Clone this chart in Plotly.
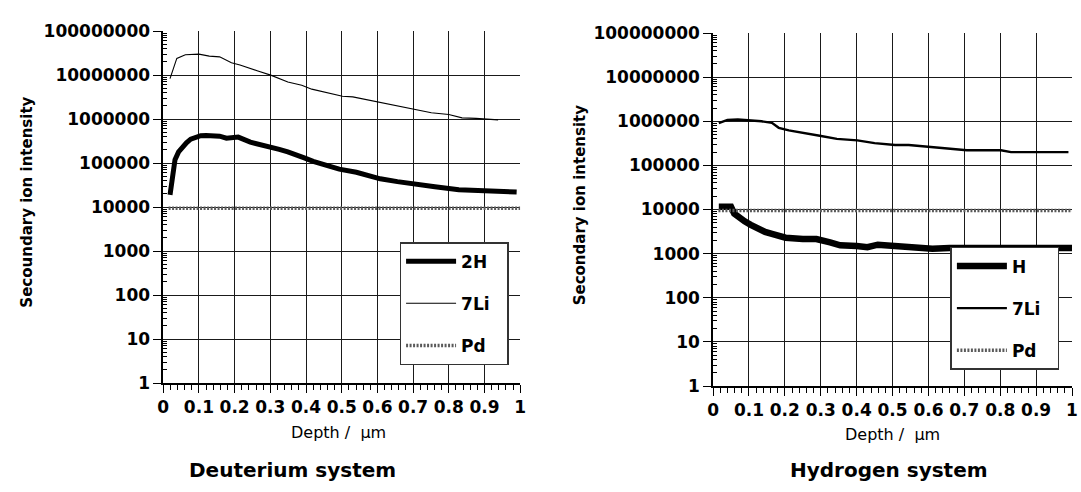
import plotly.graph_objects as go

# ---------------- data ----------------
# Deuterium system
d2h_x = [0.019, 0.026, 0.033, 0.043, 0.053, 0.065, 0.077, 0.09, 0.105, 0.12, 0.139, 0.158, 0.177, 0.195, 0.21, 0.244,
         0.27, 0.301, 0.325, 0.349, 0.375, 0.397, 0.42, 0.445, 0.47, 0.493, 0.541, 0.575, 0.608, 0.656, 0.703,
         0.761, 0.828, 0.895, 0.952, 0.99]
d2h_y = [19000, 45000, 120000, 180000, 230000, 290000, 350000, 390000, 420000, 425000, 430000, 410000, 370000, 375000,
         390000, 300000, 270000, 235000, 205000, 180000, 155000, 130000, 110000, 94000, 82000, 73000, 62000,
         52000, 44000, 38000, 33000, 29000, 25000, 24000, 24000, 22000]

dli_x = [0.019, 0.038, 0.062, 0.10, 0.129, 0.158, 0.191, 0.215, 0.263, 0.301, 0.349, 0.388, 0.416, 0.455, 0.502,
         0.531, 0.608, 0.656, 0.703, 0.751, 0.80, 0.837, 0.876, 0.914, 0.938]
dli_y = [8.3e6, 2.4e7, 2.9e7, 3.0e7, 2.7e7, 2.6e7, 1.9e7, 1.7e7, 1.26e7, 1.0e7, 7.0e6, 5.9e6, 4.8e6, 4.1e6, 3.3e6,
         3.2e6, 2.4e6, 1.95e6, 1.66e6, 1.4e6, 1.27e6, 1.07e6, 1.04e6, 1.0e6, 9.6e5]

dpd_x = [0.015, 0.25, 0.5, 0.75, 1.0]
dpd_y = [9500, 9500, 9500, 9500, 9500]

# Hydrogen system
hh_x = [0.016, 0.03, 0.05, 0.059, 0.07, 0.088, 0.105, 0.126, 0.145, 0.164, 0.185, 0.202, 0.25, 0.288, 0.326, 0.354,
        0.40, 0.43, 0.459, 0.49, 0.516, 0.564, 0.611, 0.659, 0.72, 0.8, 0.9, 1.0]
hh_y = [11500, 11500, 11500, 8100, 6800, 5400, 4500, 3600, 3100, 2800, 2500, 2300, 2150, 2150, 1800, 1550,
        1500, 1400, 1600, 1550, 1500, 1400, 1300, 1350, 1350, 1400, 1400, 1350]

hli_x = [0.016, 0.04, 0.069, 0.10, 0.135, 0.164, 0.183, 0.211, 0.259, 0.297, 0.345, 0.402, 0.45, 0.507, 0.545,
         0.602, 0.659, 0.707, 0.754, 0.802, 0.83, 0.897, 0.99]
hli_y = [9.1e5, 1.07e6, 1.1e6, 1.07e6, 1.0e6, 9.2e5, 7.1e5, 6.2e5, 5.2e5, 4.7e5, 4.0e5, 3.7e5, 3.2e5, 2.9e5, 2.9e5,
         2.6e5, 2.35e5, 2.2e5, 2.2e5, 2.2e5, 2.0e5, 2.0e5, 2.0e5]

hpd_x = [0.015, 0.25, 0.5, 0.75, 1.0]
hpd_y = [9500, 9500, 9500, 9500, 9500]

y_tickvals = [1, 10, 100, 1000, 10000, 100000, 1000000, 10000000, 100000000]
y_ticktext = ["1", "10", "100", "1000", "10000", "100000", "1000000", "10000000", "100000000"]

# ---------------- figure ----------------
W, H = 1081, 492
fig = go.Figure()

pd_line = dict(color="#5a5a5a", width=3.5, dash="2px,1.5px")
PAD = "\u00a0\u00a0"

fig.add_trace(go.Scatter(x=d2h_x, y=d2h_y, mode="lines", name="2H" + PAD, line=dict(color="black", width=5),
                         xaxis="x", yaxis="y", legend="legend", legendgroup="a"))
fig.add_trace(go.Scatter(x=dli_x, y=dli_y, mode="lines", name="7Li" + PAD, line=dict(color="black", width=1.1),
                         xaxis="x", yaxis="y", legend="legend", legendgroup="b"))
fig.add_trace(go.Scatter(x=dpd_x, y=dpd_y, mode="lines", name="Pd" + PAD, line=pd_line,
                         xaxis="x", yaxis="y", legend="legend", legendgroup="c"))

fig.add_trace(go.Scatter(x=hh_x, y=hh_y, mode="lines", name="H" + PAD, line=dict(color="black", width=6.5),
                         xaxis="x2", yaxis="y2", legend="legend2", legendgroup="d"))
fig.add_trace(go.Scatter(x=hli_x, y=hli_y, mode="lines", name="7Li" + PAD, line=dict(color="black", width=2.4),
                         xaxis="x2", yaxis="y2", legend="legend2", legendgroup="e"))
fig.add_trace(go.Scatter(x=hpd_x, y=hpd_y, mode="lines", name="Pd" + PAD, line=pd_line,
                         xaxis="x2", yaxis="y2", legend="legend2", legendgroup="f"))

tickfont = dict(family="DejaVu Sans", size=17, color="black", weight="bold")

def xax(domain, anchor):
    return dict(domain=domain, anchor=anchor, range=[0, 1], dtick=0.1, tick0=0,
                showgrid=True, gridcolor="#1a1a1a", gridwidth=1.3,
                showline=True, linecolor="black", linewidth=1.5,
                ticks="outside", ticklen=8, tickwidth=1.3, tickcolor="black",
                minor=dict(dtick=0.02, ticks="outside", ticklen=5, tickwidth=1, tickcolor="black", showgrid=False),
                tickfont=tickfont, zeroline=False, fixedrange=True)

def yax(domain, anchor):
    return dict(domain=domain, anchor=anchor, type="log", range=[0, 8],
                tickvals=y_tickvals, ticktext=y_ticktext,
                showgrid=True, gridcolor="#1a1a1a", gridwidth=1.3,
                showline=True, linecolor="black", linewidth=1.5,
                ticks="outside", ticklen=8, tickwidth=1.3, tickcolor="black",
                minor=dict(ticks="inside", ticklen=4, tickwidth=1, tickcolor="black", showgrid=False,
                           tickvals=[m * 10 ** e for e in range(0, 8) for m in range(2, 10)]),
                tickfont=tickfont, zeroline=False, fixedrange=True)

legfont = dict(family="DejaVu Sans", size=17, color="black", weight="bold")
leg_common = dict(bgcolor="white", bordercolor="#333", borderwidth=1.5, font=legfont,
                  xanchor="left", yanchor="top", itemwidth=50, traceorder="grouped",
                  tracegroupgap=17, itemclick=False, itemdoubleclick=False)

fig.update_layout(
    width=W, height=H,
    margin=dict(l=0, r=0, t=0, b=0),
    paper_bgcolor="white", plot_bgcolor="white",
    showlegend=True,
    xaxis=xax([159 / W, 520 / W], "y"),
    yaxis=yax([1 - 389 / H, 1 - 22 / H], "x"),
    xaxis2=xax([715 / W, 1078 / W], "y2"),
    yaxis2=yax([1 - 392 / H, 1 - 24 / H], "x2"),
    legend=dict(x=398 / W, y=1 - 242 / H, **leg_common),
    legend2=dict(x=955 / W, y=1 - 247 / H, **leg_common),
)

title_font = dict(family="DejaVu Sans", size=15, color="black", weight="bold")
depth_font = dict(family="DejaVu Sans", size=16, color="black")
sys_font = dict(family="DejaVu Sans", size=20, color="black", weight="bold")

annotations = [
    dict(text="Secoundary ion intensity", x=21 / W, y=1 - 200 / H, textangle=-90, font=title_font),
    dict(text="Secondary ion intensity", x=580 / W, y=1 - 203 / H, textangle=-90, font=title_font),
    dict(text="Depth /  μm", x=336 / W, y=1 - 440 / H, font=depth_font),
    dict(text="Depth /  μm", x=896 / W, y=1 - 442 / H, font=depth_font),
    dict(text="Deuterium system", x=290 / W, y=1 - 479 / H, font=sys_font),
    dict(text="Hydrogen system", x=893 / W, y=1 - 479 / H, font=sys_font),
]
for a in annotations:
    a.update(xref="paper", yref="paper", showarrow=False, xanchor="center", yanchor="middle")
fig.update_layout(annotations=annotations)

fig.write_html("out.html")
